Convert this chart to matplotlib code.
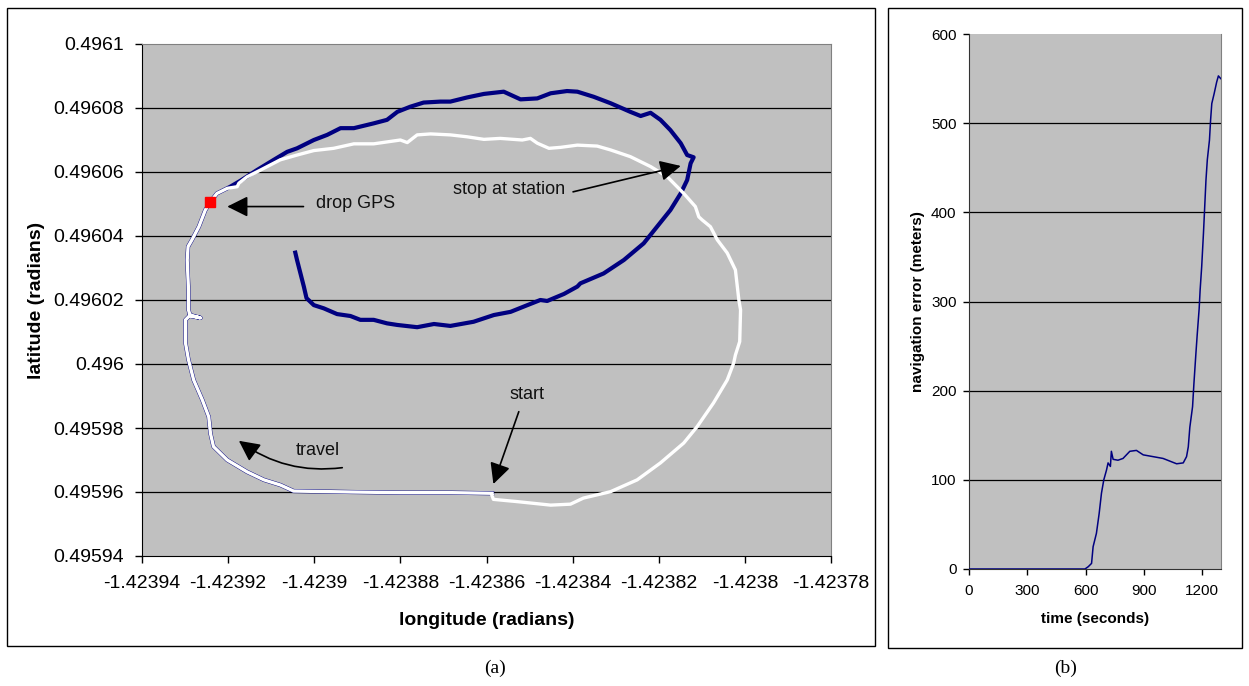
import numpy as np
import matplotlib
matplotlib.use("Agg")
import matplotlib.pyplot as plt
from matplotlib.patches import Rectangle

plt.rcParams['font.family'] = ['Liberation Sans', 'DejaVu Sans']

# GPS track (radians), in travel order from the start point
gps_lon = [-1.4238587, -1.4238684, -1.4238800, -1.4238916, -1.4239048, -1.4239079,
           -1.4239117, -1.4239156, -1.4239202, -1.4239234, -1.4239241, -1.4239245,
           -1.4239260, -1.4239280, -1.4239292, -1.4239299, -1.4239299, -1.4239288,
           -1.4239264, -1.4239288, -1.4239292, -1.4239292, -1.4239295, -1.4239293,
           -1.4239284, -1.4239268, -1.4239253, -1.4239241, -1.4239226, -1.4239202,
           -1.4239179, -1.4239175, -1.4239156, -1.4239125, -1.4239079, -1.4239040,
           -1.4239001, -1.4238955, -1.4238908, -1.4238862, -1.4238800, -1.4238784,
           -1.4238761, -1.4238730, -1.4238684, -1.4238645, -1.4238606, -1.4238568,
           -1.4238517, -1.4238498, -1.4238482, -1.4238455, -1.4238428, -1.4238389,
           -1.4238343, -1.4238312, -1.4238266, -1.4238219, -1.4238180, -1.4238142,
           -1.4238115, -1.4238107, -1.4238099, -1.4238080, -1.4238064, -1.4238041,
           -1.4238022, -1.4238014, -1.4238010, -1.4238012, -1.4238022, -1.4238026,
           -1.4238041, -1.4238073, -1.4238111, -1.4238142, -1.4238196, -1.4238250,
           -1.4238312, -1.4238375, -1.4238405, -1.4238451, -1.4238529, -1.4238584,
           -1.4238587]
gps_lat = [0.4959596, 0.4959598, 0.4959598, 0.4959600, 0.4959603, 0.4959622,
           0.4959638, 0.4959663, 0.4959700, 0.4959742, 0.4959783, 0.4959835,
           0.4959888, 0.4959950, 0.4960013, 0.4960066, 0.4960138, 0.4960153,
           0.4960144, 0.4960150, 0.4960169, 0.4960231, 0.4960325, 0.4960367,
           0.4960388, 0.4960429, 0.4960481, 0.4960507, 0.4960533, 0.4960549,
           0.4960554, 0.4960565, 0.4960585, 0.4960606, 0.4960638, 0.4960653,
           0.4960667, 0.4960674, 0.4960688, 0.4960688, 0.4960700, 0.4960692,
           0.4960716, 0.4960719, 0.4960716, 0.4960710, 0.4960702, 0.4960705,
           0.4960700, 0.4960705, 0.4960690, 0.4960674, 0.4960677, 0.4960684,
           0.4960681, 0.4960669, 0.4960648, 0.4960617, 0.4960585, 0.4960533,
           0.4960492, 0.4960460, 0.4960450, 0.4960429, 0.4960388, 0.4960347,
           0.4960294, 0.4960200, 0.4960169, 0.4960070, 0.4960028, 0.4960003,
           0.4959950, 0.4959878, 0.4959804, 0.4959753, 0.4959691, 0.4959638,
           0.4959601, 0.4959581, 0.4959562, 0.4959559, 0.4959570, 0.4959577,
           0.4959588]
drop_idx = 27  # GPS lost here

# dead-reckoning track after GPS is dropped
dr_lon = [-1.4239226, -1.4239195, -1.4239171, -1.4239133, -1.4239094, -1.4239063,
          -1.4239040, -1.4239001, -1.4238970, -1.4238939, -1.4238908, -1.4238862,
          -1.4238831, -1.4238807, -1.4238777, -1.4238746, -1.4238707, -1.4238684,
          -1.4238645, -1.4238606, -1.4238560, -1.4238521, -1.4238482, -1.4238451,
          -1.4238413, -1.4238389, -1.4238351, -1.4238312, -1.4238266, -1.4238242,
          -1.4238219, -1.4238196, -1.4238173, -1.4238149, -1.4238134, -1.4238119,
          -1.4238126, -1.4238134, -1.4238149, -1.4238173, -1.4238204, -1.4238235,
          -1.4238281, -1.4238328, -1.4238382, -1.4238389, -1.4238420, -1.4238459,
          -1.4238475, -1.4238505, -1.4238544, -1.4238583, -1.4238630, -1.4238684,
          -1.4238722, -1.4238761, -1.4238807, -1.4238831, -1.4238862, -1.4238893,
          -1.4238916, -1.4238947, -1.4238978, -1.4239001, -1.4239018, -1.4239024,
          -1.4239032, -1.4239040, -1.4239044]
dr_lat = [0.4960533, 0.4960554, 0.4960573, 0.4960606, 0.4960638, 0.4960663,
          0.4960674, 0.4960700, 0.4960716, 0.4960737, 0.4960737, 0.4960752,
          0.4960763, 0.4960788, 0.4960804, 0.4960817, 0.4960820, 0.4960820,
          0.4960833, 0.4960844, 0.4960851, 0.4960827, 0.4960830, 0.4960846,
          0.4960853, 0.4960851, 0.4960835, 0.4960815, 0.4960788, 0.4960775,
          0.4960785, 0.4960763, 0.4960731, 0.4960690, 0.4960653, 0.4960646,
          0.4960627, 0.4960575, 0.4960533, 0.4960481, 0.4960429, 0.4960377,
          0.4960325, 0.4960283, 0.4960252, 0.4960242, 0.4960219, 0.4960197,
          0.4960200, 0.4960184, 0.4960163, 0.4960153, 0.4960132, 0.4960119,
          0.4960125, 0.4960115, 0.4960122, 0.4960127, 0.4960138, 0.4960138,
          0.4960150, 0.4960156, 0.4960174, 0.4960184, 0.4960206, 0.4960241,
          0.4960283, 0.4960325, 0.4960348]

# navigation error vs time
t_sec = [0, 597, 614, 631, 639, 656, 670, 682, 694, 708, 716, 728, 733, 742, 767,
         793, 828, 862, 897, 948, 999, 1034, 1069, 1103, 1120, 1129, 1137, 1151,
         1158, 1168, 1175, 1185, 1190, 1198, 1207, 1212, 1220, 1227, 1238, 1244,
         1250, 1262, 1275, 1284, 1296]
err_m = [0, 0, 2.6, 6.3, 25, 40, 62, 85, 100, 111, 119, 115, 132, 123, 122,
         124, 132, 133, 128, 126, 124, 121, 118, 119, 126, 137, 159, 182,
         208, 241, 263, 292, 313, 339, 376, 399, 436, 459, 481, 504,
         522, 533, 546, 553, 550]

lon_ticks = [-1.42394, -1.42392, -1.4239, -1.42388, -1.42386, -1.42384,
             -1.42382, -1.4238, -1.42378]
lat_ticks = [0.49594, 0.49596, 0.49598, 0.496, 0.49602, 0.49604, 0.49606,
             0.49608, 0.4961]

W, H = 1249, 686
fig = plt.figure(figsize=(W / 100, H / 100), dpi=100)
fig.patch.set_facecolor('white')

bg = '#c0c0c0'
navy = '#000080'

# ---- (a) trajectory ----
ax = fig.add_axes([142 / W, 1 - 556 / H, 689 / W, 512 / H])
ax.set_facecolor(bg)
ax.set_xlim(lon_ticks[0], lon_ticks[-1])
ax.set_ylim(lat_ticks[0], lat_ticks[-1])
ax.set_xticks(lon_ticks)
ax.set_xticklabels(['%g' % v for v in lon_ticks])
ax.set_yticks(lat_ticks)
ax.set_yticklabels(['%g' % v for v in lat_ticks])
for v in lat_ticks[1:-1]:
    ax.axhline(v, color='black', lw=0.9, zorder=1)
ax.tick_params(direction='out', length=5, width=1, labelsize=14, color='black')
ax.tick_params(axis='x', pad=9)
ax.tick_params(axis='y', pad=8)
for s in ['top', 'right']:
    ax.spines[s].set_color('#808080')
for s in ['left', 'bottom']:
    ax.spines[s].set_color('black')

est_lon = gps_lon[:drop_idx + 1] + dr_lon
est_lat = gps_lat[:drop_idx + 1] + dr_lat
ax.plot(est_lon, est_lat, color=navy, lw=3.0, zorder=2, solid_joinstyle='round')
ax.plot(gps_lon, gps_lat, color='white', lw=2.4, zorder=3, solid_joinstyle='round')
ax.plot(gps_lon[drop_idx], gps_lat[drop_idx], 's', color='red', ms=7, zorder=4)

ax.set_xlabel('longitude (radians)', fontsize=14, fontweight='bold', labelpad=14)
ax.set_ylabel('latitude (radians)', fontsize=14, fontweight='bold', labelpad=6)

arrow = dict(arrowstyle='-|>,head_length=0.7,head_width=0.35', color='black',
             lw=1.2, mutation_scale=18, shrinkA=0, shrinkB=0)
txt = dict(fontsize=13, color='#111111')

ax.text(-1.4238997, 0.4960500, 'drop GPS', ha='left', va='center', **txt)
ax.annotate('', xy=(-1.4239202, 0.4960492), xytext=(-1.4239025, 0.4960492),
            arrowprops=arrow)

ax.text(-1.4238417, 0.4960546, 'stop at station', ha='right', va='center', **txt)
ax.annotate('', xy=(-1.4238149, 0.4960619), xytext=(-1.4238399, 0.4960538),
            arrowprops=arrow)

ax.text(-1.4238507, 0.4959905, 'start', ha='center', va='center', **txt)
ax.annotate('', xy=(-1.4238584, 0.4959625), xytext=(-1.4238525, 0.4959851),
            arrowprops=arrow)

ax.text(-1.4238991, 0.4959731, 'travel', ha='center', va='center', **txt)
ax.annotate('', xy=(-1.4239175, 0.4959760), xytext=(-1.4238935, 0.4959676),
            arrowprops=dict(arrow, connectionstyle='arc3,rad=-0.2'))

# ---- (b) navigation error ----
bx = fig.add_axes([969 / W, 1 - 569 / H, 252.5 / W, 535 / H])
bx.set_facecolor(bg)
bx.set_xlim(0, 1300)
bx.set_ylim(0, 600)
bx.set_xticks([0, 300, 600, 900, 1200])
bx.set_yticks([0, 100, 200, 300, 400, 500, 600])
for v in [100, 200, 300, 400, 500]:
    bx.axhline(v, color='black', lw=0.9, zorder=1)
bx.plot(t_sec, err_m, color=navy, lw=1.1, zorder=3)
bx.tick_params(direction='out', length=4, width=1, labelsize=11)
bx.tick_params(axis='x', pad=7)
bx.tick_params(axis='y', pad=5)
bx.spines['right'].set_color('#808080')
bx.spines['top'].set_visible(False)
for s in ['left', 'bottom']:
    bx.spines[s].set_color('#333333')
bx.set_xlabel('time (seconds)', fontsize=11, fontweight='bold', labelpad=10)
bx.set_ylabel('navigation error (meters)', fontsize=11, fontweight='bold', labelpad=4)

# chart frames and captions
fig.patches.append(Rectangle((7 / W, 1 - 646 / H), 868 / W, 638 / H, transform=fig.transFigure,
                             fill=False, edgecolor='black', lw=1.0))
fig.patches.append(Rectangle((888 / W, 1 - 648 / H), 354 / W, 640 / H, transform=fig.transFigure,
                             fill=False, edgecolor='black', lw=1.0))
fig.text(495 / W, 1 - 668 / H, '(a)', ha='center', va='center', fontsize=14,
         family=['Liberation Serif', 'DejaVu Serif'])
fig.text(1066 / W, 1 - 668 / H, '(b)', ha='center', va='center', fontsize=14,
         family=['Liberation Serif', 'DejaVu Serif'])

fig.savefig('out.png', dpi=100)
